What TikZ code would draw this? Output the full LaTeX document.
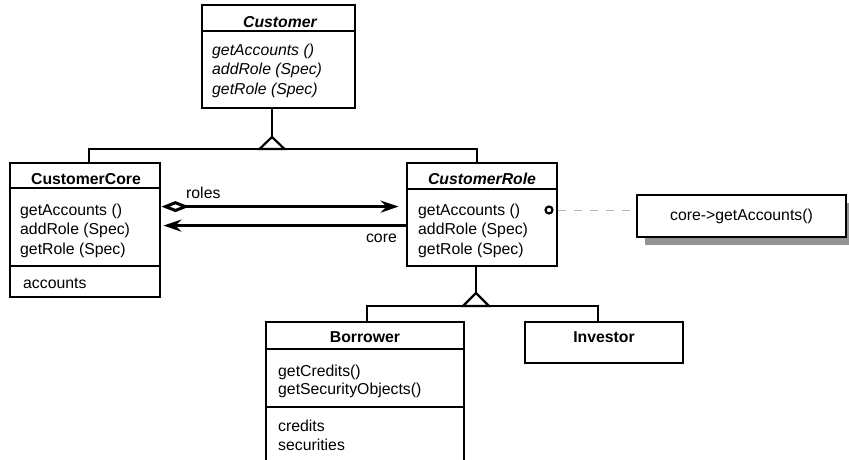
\documentclass[tikz,border=0pt]{standalone}
\usepackage{fontspec}
\setmainfont{Liberation Sans}
\usetikzlibrary{arrows.meta}
\usetikzlibrary{shadows}

\newcommand{\umlfont}{\fontsize{15.8}{19.5}\selectfont}

\tikzset{
  classbox/.style={draw, line width=2.8pt, fill=white, inner sep=0pt},
  divider/.style={line width=2.2pt},
  classname/.style={anchor=base, inner sep=0pt, font=\umlfont\bfseries},
  members/.style={anchor=base west, inner sep=0pt, align=left, font=\umlfont},
  link/.style={line width=2.2pt},
  assoc/.style={line width=3pt},
  notebox/.style={draw, line width=2.8pt, fill=white, font=\umlfont,
    minimum width=209, minimum height=42,
    drop shadow={shadow xshift=8pt, shadow yshift=-8pt, opacity=1, fill=black!42}},
}

\begin{document}
\begin{tikzpicture}[x=1pt, y=-1pt]
\useasboundingbox (0,0) rectangle (849,459);

%class boxes
\node[classbox, minimum width=153, minimum height=103] (customer) at (278.5,56.5) {};
\node[classbox, minimum width=150, minimum height=134] (core) at (85,230) {};
\node[classbox, minimum width=150, minimum height=103] (role) at (482,214.5) {};
\node[classbox, minimum width=198, minimum height=160] (borrower) at (365,402) {};
\node[classbox, minimum width=158, minimum height=41] (investor) at (604,342.5) {};

%compartment lines
\draw[divider] ([yshift=-27pt]customer.north west) -- ([yshift=-27pt]customer.north east);
\draw[divider] ([yshift=-26pt]core.north west) -- ([yshift=-26pt]core.north east);
\draw[divider] ([yshift=-104pt]core.north west) -- ([yshift=-104pt]core.north east);
\draw[divider] ([yshift=-27pt]role.north west) -- ([yshift=-27pt]role.north east);
\draw[divider] ([yshift=-28pt]borrower.north west) -- ([yshift=-28pt]borrower.north east);
\draw[divider] ([yshift=-86pt]borrower.north west) -- ([yshift=-86pt]borrower.north east);

%class names
\node[classname, font=\umlfont\bfseries\itshape] (customername) at (280,27) {Customer};
\node[classname] (corename) at (86,184) {CustomerCore};
\node[classname, font=\umlfont\bfseries\itshape] (rolename) at (482,184) {CustomerRole};
\node[classname] (borrowername) at (365,342) {Borrower};
\node[classname] (investorname) at (604,342) {Investor};

%operations and attributes (anchored at the last baseline)
\node[members, font=\umlfont\itshape] (customerops) at (212,94)
  {getAccounts ()\\ addRole (Spec)\\ getRole (Spec)};
\node[members] (coreops) at (20,254)
  {getAccounts ()\\ addRole (Spec)\\ getRole (Spec)};
\node[members] (coreattrs) at (23,288) {accounts};
\node[members] (roleops) at (418,254)
  {getAccounts ()\\ addRole (Spec)\\ getRole (Spec)};
\node[members] (borrowerops) at (278,394)
  {getCredits()\\[-1.5pt] getSecurityObjects()};
\node[members] (borrowerattrs) at (278,450)
  {credits\\[-0.5pt] securities};

%generalizations
\coordinate (gen1) at (272,149);
\draw[link] ([yshift=12pt]gen1) -- (customer.south -| gen1);
\draw[link] ([xshift=4pt]core.north) |- (gen1) -| ([xshift=-5pt]role.north);
\draw[link, fill=white] (gen1) ++(-12.5,0) -- ++(12.5,-12) -- ++(12.5,12) -- cycle;

\coordinate (gen2) at (476,306);
\draw[link] ([yshift=13pt]gen2) -- (role.south -| gen2);
\draw[link] ([xshift=2pt]borrower.north) |- (gen2) -| ([xshift=-6pt]investor.north);
\draw[link, fill=white] (gen2) ++(-13,0) -- ++(13,-13) -- ++(13,13) -- cycle;

%associations
\draw[assoc, {Diamond[open, length=28pt, width=11pt]}-{Stealth[length=18pt, width=12pt]}]
  ([yshift=-45pt]core.north east) -- ([xshift=-7pt, yshift=-45pt]role.north west);
\draw[assoc, -{Stealth[length=18pt, width=12pt]}]
  ([yshift=-64pt]role.north west) -- ([xshift=2pt, yshift=-64pt]core.north east);

\node[anchor=base west, inner sep=0pt, font=\umlfont] (roleslabel) at (186,198) {roles};
\node[anchor=base east, inner sep=0pt, font=\umlfont] (corelabel) at (397,242) {core};

%note
\node[notebox] (note) at (741.5,216) {core->getAccounts()};
\node[circle, draw, line width=2.2pt, fill=white, inner sep=0pt, minimum size=7pt] (opdot) at (549,210) {};
\draw[gray!60, line width=0.9pt, dash pattern=on 8pt off 8pt] (role.east |- opdot) -- (note.west |- opdot);

\end{tikzpicture}
\end{document}
